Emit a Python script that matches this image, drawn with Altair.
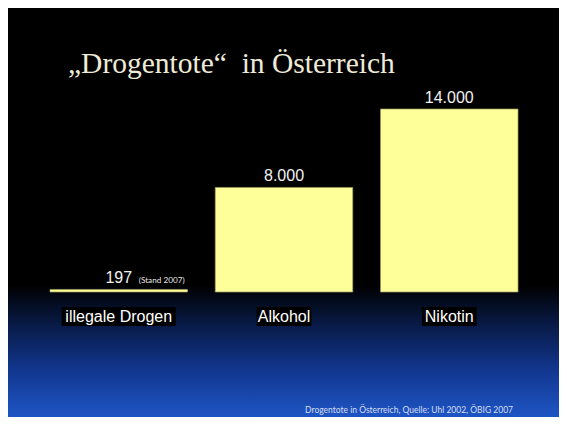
import altair as alt
import pandas as pd

# ---- data ----
categories = ["illegale Drogen", "Alkohol", "Nikotin"]
values = [197, 8000, 14000]
value_labels = ["197", "8.000", "14.000"]
note_text = "(Stand 2007)"
title_text = "\u201eDrogentote\u201c\u00a0 in \u00d6sterreich"
source_text = "Drogentote in \u00d6sterreich, Quelle: Uhl 2002, \u00d6BIG 2007"

W, H = 551, 409
GRAD_TOP = 277

df = pd.DataFrame({"cat": categories, "val": values, "lab": value_labels})

xscale = alt.Scale(domain=categories, range=[28.1, 523.9], paddingInner=0.168, paddingOuter=0.084)
yscale = alt.Scale(domain=[0, 14000], range=[284, 101], nice=False, zero=True)
X = alt.X("cat:N", scale=xscale, axis=None, sort=categories)

one = alt.Data(values=[{"k": 1}])

bg = alt.Chart(one).mark_rect(color="#000000").encode(
    x=alt.value(0), x2=alt.value(W), y=alt.value(0), y2=alt.value(GRAD_TOP + 1)
)

grad = alt.Chart(one).mark_rect(
    fill=alt.Gradient(
        gradient="linear",
        stops=[
            alt.GradientStop(offset=0, color="#000000"),
            alt.GradientStop(offset=0.3, color="#081a46"),
            alt.GradientStop(offset=0.65, color="#123790"),
            alt.GradientStop(offset=1, color="#1e55c4"),
        ],
        x1=0, x2=0, y1=0, y2=1,
    )
).encode(x=alt.value(0), x2=alt.value(W), y=alt.value(GRAD_TOP), y2=alt.value(H))

boxes = alt.Chart(df).transform_calculate(
    w="length(datum.cat) * 7.4 + 3"
).mark_bar(color="#000000").encode(
    x=X, size=alt.Size("w:Q", scale=None, legend=None),
    y=alt.value(299), y2=alt.value(318)
)

bars = alt.Chart(df).mark_bar(color="#FFFF99", stroke="#9c9a5c", strokeWidth=0.7).encode(
    x=X, y=alt.Y("val:Q", scale=yscale, axis=None)
)

vlabels = alt.Chart(df).mark_text(
    font="Liberation Sans", fontSize=16, color="#F2F2F2", baseline="alphabetic", dy=-6.5
).encode(x=X, y=alt.Y("val:Q", scale=yscale, axis=None), text="lab:N")

clabels = alt.Chart(df).mark_text(
    font="Liberation Sans", fontSize=16, color="#FFFFFF", baseline="alphabetic"
).encode(x=X, y=alt.value(313.7), text="cat:N")

note = alt.Chart(df.iloc[[0]]).transform_calculate(t="'" + note_text + "'").mark_text(
    font="Lato", fontSize=8.2, color="#E6E6E6", align="left", baseline="alphabetic", dx=20, dy=-6.5
).encode(x=X, y=alt.Y("val:Q", scale=yscale, axis=None), text="t:N")

title = alt.Chart(alt.Data(values=[{"t": title_text}])).mark_text(
    font="Liberation Serif", fontSize=29.5, color="#EEEBD8", align="left", baseline="alphabetic"
).encode(x=alt.value(60), y=alt.value(65), text="t:N")

source = alt.Chart(alt.Data(values=[{"t": source_text}])).mark_text(
    font="Lato", fontSize=8.5, color="#D6DEF2", align="right", baseline="alphabetic"
).encode(x=alt.value(505), y=alt.value(404.7), text="t:N")

chart = alt.layer(bg, grad, boxes, bars, vlabels, clabels, note, title, source).properties(
    width=W, height=H, autosize=alt.AutoSizeParams(type="none"), padding=0,
    background="#FFFFFF"
).configure_view(stroke=None)

chart.save("out.html", embed_options={"renderer": "svg", "actions": False})
